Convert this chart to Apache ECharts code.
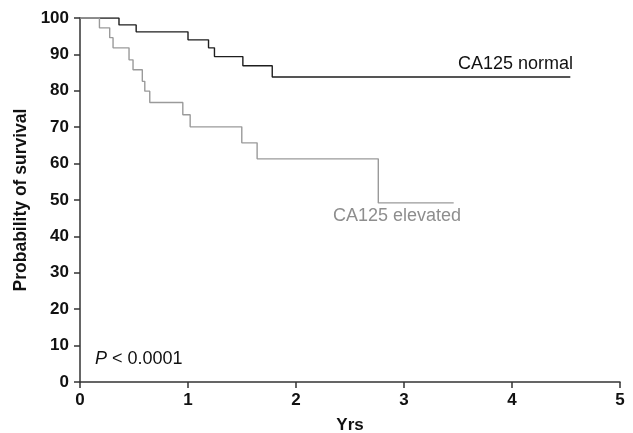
<!DOCTYPE html>
<html><head><meta charset="utf-8">
<script src="https://cdn.jsdelivr.net/npm/echarts@6/dist/echarts.min.js"></script>
<style>html,body{margin:0;padding:0;background:#fff}#c{width:633px;height:433px}</style>
</head><body><div id="c"></div>
<script>
// Kaplan–Meier step data
const normalTimes = [0, 0.361, 0.52, 1.0, 1.19, 1.245, 1.508, 1.78, 4.54];
const normalValues = [100, 98.1, 96.2, 94.0, 91.8, 89.4, 86.9, 83.8, 83.8];
const elevatedTimes = [0, 0.18, 0.275, 0.306, 0.454, 0.491, 0.577, 0.6, 0.646, 0.952, 1.02, 1.498, 1.64, 2.762, 3.46];
const elevatedValues = [100, 97.3, 94.6, 91.8, 88.5, 85.8, 82.6, 79.9, 76.8, 73.4, 70.1, 65.7, 61.3, 49.2, 49.2];
const xTicks = [0, 1, 2, 3, 4, 5];
const yTicks = [0, 10, 20, 30, 40, 50, 60, 70, 80, 90, 100];
const seriesNames = ['CA125 normal', 'CA125 elevated'];

const FONT = '"Liberation Sans", Arial, Helvetica, sans-serif';
const pair = (ts, vs) => ts.map((t, i) => [t, vs[i]]);

const chart = echarts.init(document.getElementById('c'), null, {renderer: 'canvas'});
chart.setOption({
  animation: false,
  backgroundColor: '#fff',
  grid: {left: 80, right: 13, top: 18, bottom: 51, containLabel: false, outerBoundsMode: 'none'},
  xAxis: {
    type: 'value', min: xTicks[0], max: xTicks[xTicks.length - 1], interval: 1,
    name: 'Yrs', nameLocation: 'middle', nameGap: 35,
    nameTextStyle: {fontFamily: FONT, fontSize: 17, fontWeight: 'bold', color: '#111'},
    axisLine: {show: true, lineStyle: {color: '#333', width: 1.5}},
    axisTick: {show: true, length: 6, lineStyle: {color: '#333', width: 1.5}},
    axisLabel: {fontFamily: FONT, fontSize: 17, fontWeight: 'bold', color: '#111', margin: 10},
    splitLine: {show: false}
  },
  yAxis: {
    type: 'value', min: yTicks[0], max: yTicks[yTicks.length - 1], interval: 10,
    name: 'Probability of survival', nameLocation: 'middle', nameGap: 43, nameRotate: 90,
    nameTextStyle: {fontFamily: FONT, fontSize: 17.5, fontWeight: 'bold', color: '#111'},
    axisLine: {show: true, lineStyle: {color: '#333', width: 1.5}},
    axisTick: {show: true, length: 6, lineStyle: {color: '#333', width: 1.5}},
    axisLabel: {fontFamily: FONT, fontSize: 17, fontWeight: 'bold', color: '#111', margin: 11},
    splitLine: {show: false}
  },
  series: [
    {name: seriesNames[0], type: 'line', step: 'end', symbol: 'none',
     lineStyle: {color: '#1e1e1e', width: 1.4}, data: pair(normalTimes, normalValues)},
    {name: seriesNames[1], type: 'line', step: 'end', symbol: 'none',
     lineStyle: {color: '#9a9a9a', width: 1.4}, data: pair(elevatedTimes, elevatedValues)}
  ],
  graphic: [
    {type: 'text', left: 458, top: 55, style: {text: seriesNames[0], font: '18px ' + FONT, fill: '#111'}},
    {type: 'text', left: 333, top: 207, style: {text: seriesNames[1], font: '18px ' + FONT, fill: '#8e8e8e'}},
    {type: 'text', left: 95, top: 350, style: {
      text: '{i|P} < 0.0001',
      rich: {i: {fontStyle: 'italic', fontFamily: FONT, fontSize: 18, fill: '#111'}},
      font: '18px ' + FONT, fill: '#111'}}
  ]
});
</script></body></html>
